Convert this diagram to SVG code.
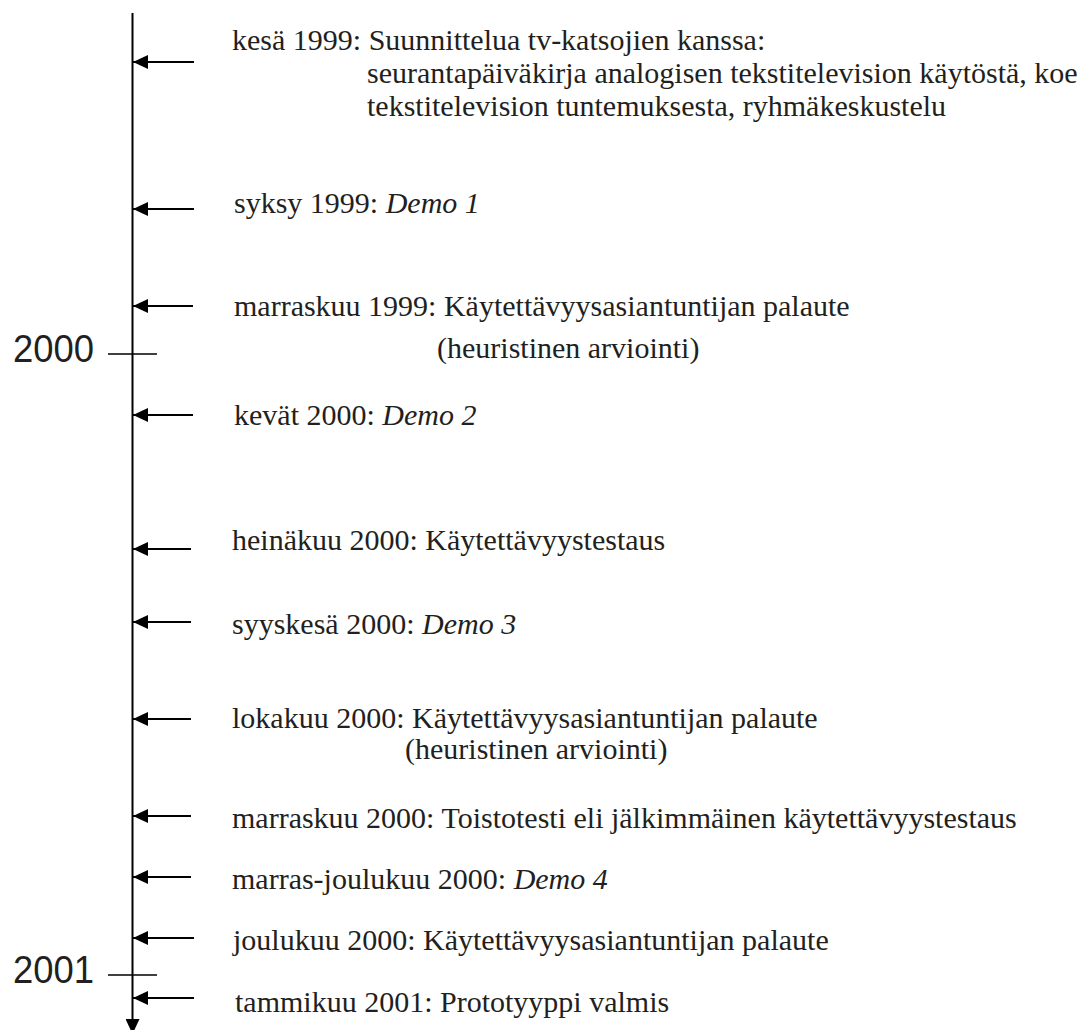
<svg xmlns="http://www.w3.org/2000/svg" width="1078" height="1030" viewBox="0 0 1078 1030">
<style>
.t{font-family:"Liberation Serif","Times New Roman",serif;font-size:30px;fill:#231f20}
.i{font-style:italic}
.y{font-family:"Liberation Sans",Arial,sans-serif;font-size:39px;fill:#231f20}
.ln{stroke:#000;stroke-width:2;fill:none}
.tk{stroke:#000;stroke-width:1.6;fill:none}
</style>
<defs>
<marker id="ah" viewBox="0 0 15 14" refX="15" refY="7" markerWidth="15" markerHeight="14" orient="auto" markerUnits="userSpaceOnUse">
<path d="M0,0 L15,7 L0,14 z" fill="#000"/>
</marker>
</defs>
<rect width="1078" height="1030" fill="#fff"/>
<g id="axis">
<line class="ln" x1="132.5" y1="13" x2="132.5" y2="1034" marker-end="url(#ah)"/>
<line class="tk" x1="108" y1="354" x2="157" y2="354"/>
<line class="tk" x1="108" y1="975" x2="157" y2="975"/>
<text class="y" x="13" y="362" textLength="81" lengthAdjust="spacingAndGlyphs">2000</text>
<text class="y" x="13" y="983" textLength="81" lengthAdjust="spacingAndGlyphs">2001</text>
</g>
<g id="connectors">
<line class="ln" x1="194" y1="62" x2="133" y2="62" marker-end="url(#ah)"/>
<line class="ln" x1="194" y1="209" x2="133" y2="209" marker-end="url(#ah)"/>
<line class="ln" x1="193" y1="306" x2="133" y2="306" marker-end="url(#ah)"/>
<line class="ln" x1="193" y1="415" x2="133" y2="415" marker-end="url(#ah)"/>
<line class="ln" x1="191" y1="549" x2="133" y2="549" marker-end="url(#ah)"/>
<line class="ln" x1="191" y1="622" x2="133" y2="622" marker-end="url(#ah)"/>
<line class="ln" x1="191" y1="719" x2="133" y2="719" marker-end="url(#ah)"/>
<line class="ln" x1="191" y1="816" x2="133" y2="816" marker-end="url(#ah)"/>
<line class="ln" x1="191" y1="877" x2="133" y2="877" marker-end="url(#ah)"/>
<line class="ln" x1="194" y1="938" x2="133" y2="938" marker-end="url(#ah)"/>
<line class="ln" x1="194" y1="998" x2="133" y2="998" marker-end="url(#ah)"/>
</g>
<g id="n1">
<text class="t" x="232" y="50">kesä 1999: Suunnittelua tv-katsojien kanssa:</text>
<text class="t" x="367" y="83">seurantapäiväkirja analogisen tekstitelevision käytöstä, koe</text>
<text class="t" x="367" y="116">tekstitelevision tuntemuksesta, ryhmäkeskustelu</text>
</g>
<g id="n2"><text class="t" x="234" y="213">syksy 1999: <tspan class="i">Demo 1</tspan></text></g>
<g id="n3">
<text class="t" x="234" y="316">marraskuu 1999: Käytettävyysasiantuntijan palaute</text>
<text class="t" x="437" y="358">(heuristinen arviointi)</text>
</g>
<g id="n4"><text class="t" x="234" y="425">kevät 2000: <tspan class="i">Demo 2</tspan></text></g>
<g id="n5"><text class="t" x="232" y="550">heinäkuu 2000: Käytettävyystestaus</text></g>
<g id="n6"><text class="t" x="232" y="634">syyskesä 2000: <tspan class="i">Demo 3</tspan></text></g>
<g id="n7">
<text class="t" x="232" y="728">lokakuu 2000: Käytettävyysasiantuntijan palaute</text>
<text class="t" x="405" y="759">(heuristinen arviointi)</text>
</g>
<g id="n8"><text class="t" x="232" y="828">marraskuu 2000: Toistotesti eli jälkimmäinen käytettävyystestaus</text></g>
<g id="n9"><text class="t" x="232" y="889">marras-joulukuu 2000: <tspan class="i">Demo 4</tspan></text></g>
<g id="n10"><text class="t" x="233" y="950">joulukuu 2000: Käytettävyysasiantuntijan palaute</text></g>
<g id="n11"><text class="t" x="235" y="1012">tammikuu 2001: Prototyyppi valmis</text></g>
</svg>
